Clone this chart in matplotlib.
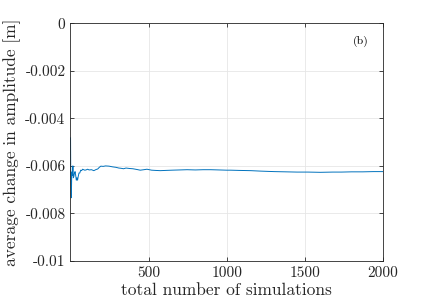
import matplotlib
matplotlib.use('Agg')
import matplotlib.pyplot as plt

plt.rcParams['font.family'] = ['cmr10', 'DejaVu Serif']
plt.rcParams['axes.unicode_minus'] = False
plt.rcParams['mathtext.fontset'] = 'cm'

# values
n_sim = [1, 2, 4, 6, 8, 10, 13, 16, 19, 22, 26, 30, 34, 38, 42, 46, 50, 55, 60, 66, 72, 78,
         85, 92, 100, 110, 120, 135, 150, 165, 175, 185, 195, 210, 225, 247, 270, 292, 310,
         324, 340, 356, 380, 400, 425, 447, 470, 490, 520, 545, 575, 610, 650, 700, 747,
         800, 850, 898, 950, 1000, 1026, 1080, 1155, 1220, 1304, 1380, 1450, 1520, 1600,
         1680, 1735, 1800, 1870, 1940, 2000]
avg_change = [-0.00482, -0.0061, -0.0069, -0.00734, -0.0066, -0.00625, -0.0064, -0.0060,
              -0.0065, -0.00645, -0.0063, -0.00624, -0.0064, -0.0066, -0.0065, -0.0066,
              -0.00645, -0.0063, -0.0063, -0.00618, -0.0062, -0.00614, -0.00616, -0.00618,
              -0.00617, -0.00614, -0.00617, -0.00616, -0.0062, -0.00615, -0.00613, -0.00606,
              -0.00601, -0.00602, -0.00600, -0.00601, -0.00604, -0.00606, -0.00609,
              -0.0061, -0.00612, -0.00609, -0.00611, -0.00612, -0.00615, -0.00618,
              -0.00616, -0.00614, -0.00618, -0.00619, -0.0062, -0.00619, -0.00618,
              -0.00617, -0.00616, -0.00617, -0.00616, -0.00616, -0.00617, -0.00618,
              -0.00618, -0.00619, -0.0062, -0.00622, -0.00624, -0.00625, -0.00626,
              -0.00626, -0.00627, -0.00626, -0.00626, -0.00625, -0.00625, -0.00624,
              -0.00624]

xticks = [500, 1000, 1500, 2000]
yticks = [0, -0.002, -0.004, -0.006, -0.008, -0.01]
ytick_labels = ['0', '-0.002', '-0.004', '-0.006', '-0.008', '-0.01']

fig = plt.figure(figsize=(4.24, 3.07), dpi=100)
ax = fig.add_axes([0.166, 0.150, 0.737, 0.774])
ax.plot(n_sim, avg_change, color=(0, 0.447, 0.741), linewidth=0.7)

ax.set_xlim(0, 2000)
ax.set_ylim(-0.01, 0)
ax.set_xticks(xticks)
ax.set_xticklabels([str(t) for t in xticks])
ax.set_yticks(yticks)
ax.set_yticklabels(ytick_labels)
ax.grid(True, color='#e6e6e6', linewidth=0.6)
ax.set_axisbelow(True)
for s in ax.spines.values():
    s.set_color('#262626')
    s.set_linewidth(0.6)
ax.tick_params(direction='in', length=3, width=0.6, top=True, right=True,
               colors='#262626', labelsize=11, labelcolor='#262626')
ax.set_xlabel('total number of simulations', fontsize=12.5, color='#262626', labelpad=2)
ax.set_ylabel('average change in amplitude [m]', fontsize=12.5, color='#262626', labelpad=3)
ax.text(0.955, 0.925, '(b)', transform=ax.transAxes, ha='right', va='center', fontsize=8.5)

fig.savefig('out.png', dpi=100)
